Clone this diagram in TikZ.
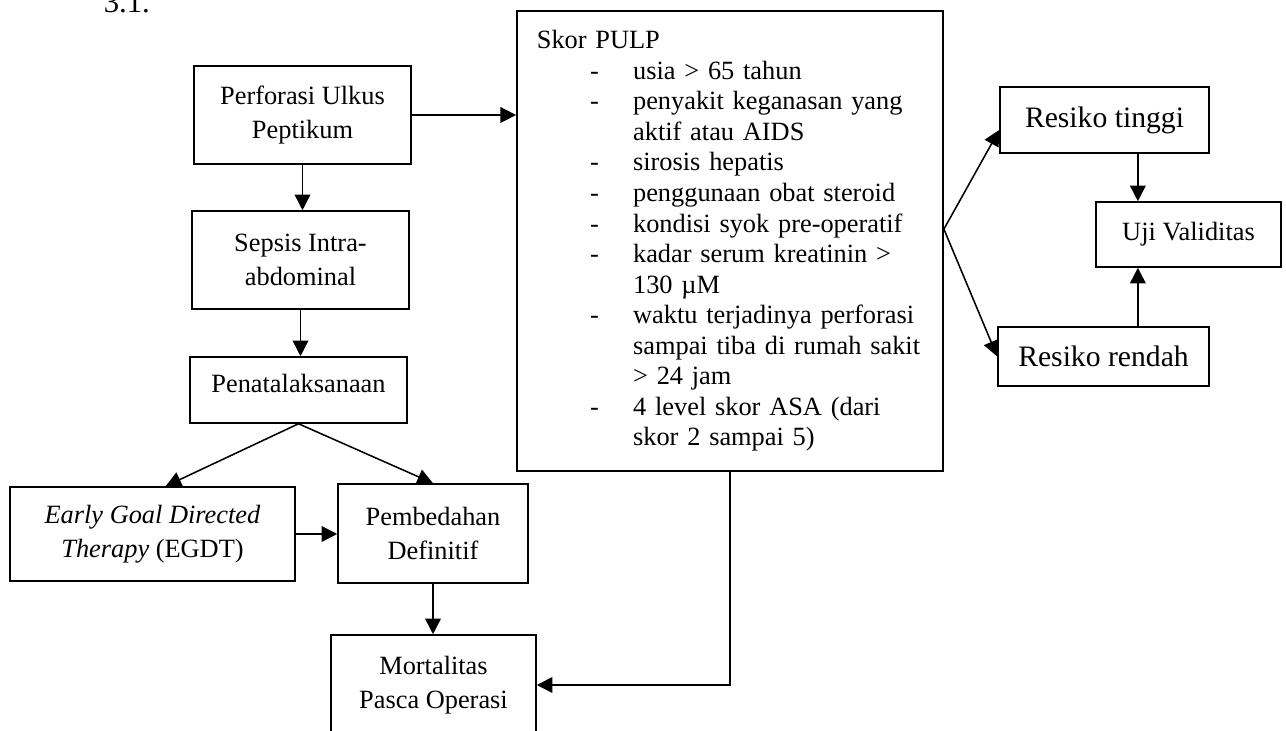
\documentclass[tikz,border=0pt]{standalone}
\usepackage{fontspec}
\setmainfont{Liberation Serif}
\usetikzlibrary{arrows.meta,positioning}
% dash items of the PULP list
\newcommand{\pitem}[1]{\makebox[1.54cm][l]{\hspace*{0.85cm}-}#1}
\newcommand{\pcont}[1]{\hspace*{1.54cm}#1}

\begin{document}
\begin{tikzpicture}[
    box/.style={draw, line width=0.7pt, align=center, inner sep=0pt,
                font=\fontsize{12}{15.5}\selectfont},
    arr/.style={line width=0.7pt, -{Triangle[length=0.25cm,width=0.25cm]}}
  ]
  \useasboundingbox (0,0) rectangle (20.576,11.696);

  \node[anchor=base west, font=\fontsize{14}{16}\selectfont] (fignum) at (1.536,11.488) {3.1.};

  % left column
  \node[box, minimum width=3.472cm, minimum height=1.568cm] (perf) at (4.84,9.856) {Perforasi Ulkus\\Peptikum};
  \node[box, minimum width=3.472cm, minimum height=1.568cm] (sepsis) at (4.808,7.536) {Sepsis Intra-\\abdominal};
  \node[box, minimum width=3.472cm, minimum height=1.056cm, text depth=0.2cm] (tata) at (4.776,5.456) {Penatalaksanaan};
  \node[box, minimum width=4.56cm, minimum height=1.504cm] (egdt) at (2.44,3.152) {\textit{Early Goal Directed}\\\textit{Therapy} (EGDT)};
  \node[box, minimum width=3.04cm, minimum height=1.584cm] (bedah) at (6.928,3.16) {Pembedahan\\Definitif};
  \node[box, minimum width=3.28cm, minimum height=1.6cm] (mort) at (6.936,0.736) {Mortalitas\\Pasca Operasi};

  % skor PULP
  \node[box, align=left, text width=6.18cm, inner xsep=0.32cm, minimum height=7.36cm,
        font=\fontsize{12}{13.9}\selectfont] (pulp) at (11.68,7.84) {%
    Skor PULP\\
    \pitem{usia > 65 tahun}\\
    \pitem{penyakit keganasan yang}\\
    \pcont{aktif atau AIDS}\\
    \pitem{sirosis hepatis}\\
    \pitem{penggunaan obat steroid}\\
    \pitem{kondisi syok pre-operatif}\\
    \pitem{kadar serum kreatinin >}\\
    \pcont{130 µM}\\
    \pitem{waktu terjadinya perforasi}\\
    \pcont{sampai tiba di rumah sakit}\\
    \pcont{> 24 jam}\\
    \pitem{4 level skor ASA (dari}\\
    \pcont{skor 2 sampai 5)}};

  % right column
  \node[box, minimum width=3.344cm, minimum height=1.056cm, font=\fontsize{13.5}{16}\selectfont] (tinggi) at (17.672,9.776) {Resiko tinggi};
  \node[box, minimum width=2.96cm, minimum height=1.04cm] (uji) at (19.016,7.944) {Uji Validitas};
  \node[box, minimum width=3.376cm, minimum height=0.944cm, font=\fontsize{13.5}{16}\selectfont] (rendah) at (17.656,5.992) {Resiko rendah};

  \coordinate (fork) at ([yshift=0.19cm]pulp.east);
  \coordinate (ujiin) at ([xshift=-0.81cm]uji.north);

  \draw[arr] (perf.south) -- (perf.south |- sepsis.north);
  \draw[arr] (sepsis.south) -- (sepsis.south |- tata.north);
  \draw[arr] (tata.south) -- ([xshift=0.21cm]egdt.north);
  \draw[arr] (tata.south) -- (bedah.north);
  \draw[arr] (egdt.east) -- (egdt.east -| bedah.west);
  \draw[arr] (bedah.south) -- (bedah.south |- mort.north);
  \draw[arr] (perf.east) -- (perf.east -| pulp.west);
  \draw[arr] (pulp.south) |- (mort.east);
  \draw[arr] (fork) -- ([yshift=-0.16cm]tinggi.west);
  \draw[arr] (fork) -- (rendah.west);
  \draw[arr] (tinggi.south -| ujiin) -- (ujiin);
  \draw[arr] (rendah.north -| ujiin) -- (ujiin |- uji.south);
\end{tikzpicture}
\end{document}
